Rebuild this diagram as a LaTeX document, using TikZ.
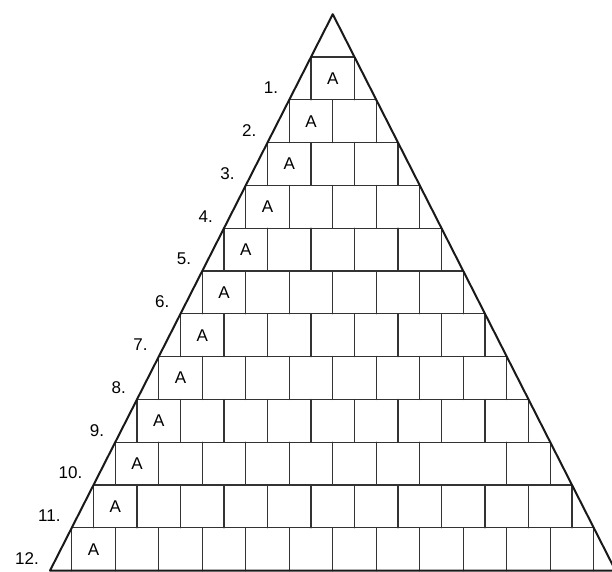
\documentclass[tikz,border=0pt]{standalone}
\usepackage{fontspec}
\setmainfont{Liberation Sans}
\begin{document}
\begin{tikzpicture}[x=1pt,y=-1pt,line cap=round,line join=round,
  brick/.style={draw=black!80,line width=1.3pt},
  outline/.style={draw=black!90,line width=2pt},
  letter/.style={font=\fontsize{17}{17}\selectfont,inner sep=0pt},
  rownum/.style={font=\fontsize{17}{17}\selectfont,anchor=east,inner sep=0pt}]
\useasboundingbox (0,0) rectangle (612,571);
\def\h{42.8}\def\w{43.5}\def\cx{332.75}\def\yo{14.2}
% rows of bricks, one A brick and one number per row
\foreach \k in {1,...,12}{
  \pgfmathsetmacro\yt{\yo+\h*\k}\pgfmathsetmacro\yb{\yo+\h*(\k+1)}\pgfmathsetmacro\xl{\cx-\w/2*\k}
  \draw[brick] (\xl,\yt)--({\cx+\w/2*\k},\yt);
  \foreach \j in {0,...,\k}{\ifnum\numexpr\k*100+\j\relax=1008 \else\draw[brick] ({\xl+\w*\j},\yt)--({\xl+\w*\j},\yb);\fi}
  \node[letter] (a\k) at ({\xl+\w/2},{\yt+\h/2}) {A};
  \node[rownum] (n\k) at ({\cx-\w/2*(\k+1)-11},{\yb-12}) {\k.};
}
\draw[outline] (\cx,\yo)--({\cx-\w/2*13},{\yo+\h*13})--({\cx+\w/2*13},{\yo+\h*13})--cycle;
\end{tikzpicture}
\end{document}
